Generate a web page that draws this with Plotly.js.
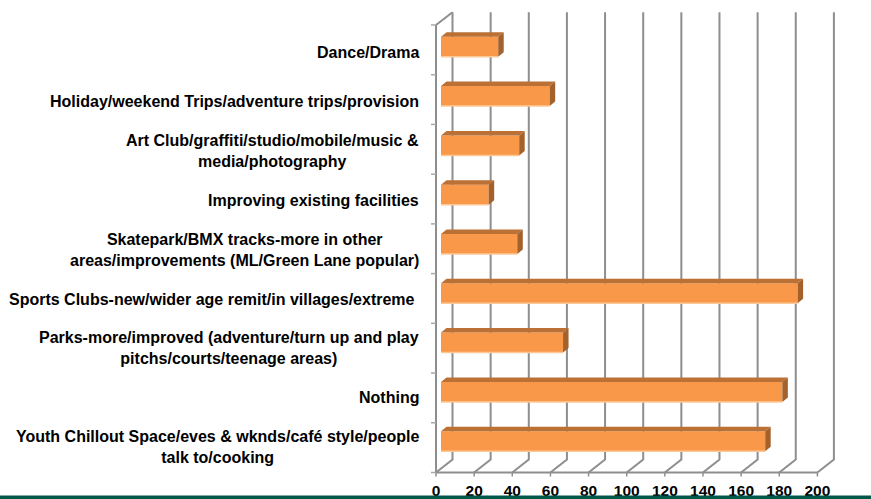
<!DOCTYPE html>
<html>
<head>
<meta charset="utf-8">
<script src="https://cdn.plot.ly/plotly-3.0.1.min.js"></script>
<style>html,body{margin:0;padding:0;background:#fff;}#chart{width:871px;height:499px;}</style>
</head>
<body>
<div id="chart"></div>
<script>
// ---- data (top to bottom as shown) ----
const categories = [
  "Dance/Drama",
  "Holiday/weekend Trips/adventure trips/provision",
  "Art Club/graffiti/studio/mobile/music &<br>media/photography",
  "Improving existing facilities",
  "Skatepark/BMX tracks-more in other<br>areas/improvements (ML/Green Lane popular)",
  "Sports Clubs-new/wider age remit/in villages/extreme\u00A0",
  "Parks-more/improved (adventure/turn up and play<br>pitchs/courts/teenage areas)",
  "Nothing",
  "Youth Chillout Space/eves & wknds/café style/people<br>talk to/cooking"
];
const values = [30, 57, 41, 25, 40, 187, 64, 179, 170];
const xTickVals = [0, 20, 40, 60, 80, 100, 120, 140, 160, 180, 200];
const xTickText = ["0", "20", "40", "60", "80", "100", "120", "140", "160", "180", "200"];

// ---- geometry (pixels) ----
const W = 871, H = 499, ML = 420, MR = 20;
const PXU = 1.907;          // px per value unit
const BAR_X0 = 441;         // px of value 0 on bar front face
const FRONT_X0 = 436, BACK_X0 = 452.5;
const FRONT_TOP = 25, FRONT_BOT = 472.5, BACK_TOP = 12.3, BACK_BOT = 459.5;
const CAT = 49.3, CAT0 = 46.8; // px pitch and first bar center
const BAR_W = 20 / CAT;
const DXU = 5.5 / PXU, DYU = 4.5 / CAT;

const fx = px => (px - BAR_X0) / PXU;
const fy = px => (px - CAT0) / CAT;
const offF = fx(FRONT_X0), offB = fx(BACK_X0);

const idx = categories.map((c, i) => i);

// top faces and side faces
const topX = [], topY = [], sideX = [], sideY = [], lowX = [], lowY = [];
values.forEach((v, i) => {
  const yt = i - BAR_W / 2, yb = i + BAR_W / 2;
  topX.push(0, v, v + DXU, DXU, 0, null);
  topY.push(yt, yt, yt - DYU, yt - DYU, yt, null);
  sideX.push(v, v + DXU, v + DXU, v, v, null);
  sideY.push(yt, yt - DYU, yb - DYU, yb, yt, null);
  lowX.push(0, v, null);
  lowY.push(yb, yb, null);
});

const traces = [
  {type: 'bar', orientation: 'h', x: values, y: idx, width: BAR_W,
   marker: {color: '#F89848', line: {width: 0}}, hoverinfo: 'none'},
  {type: 'scatter', mode: 'lines', x: topX, y: topY, fill: 'toself',
   fillcolor: '#BB7035', line: {width: 0, color: '#BB7035'}, hoverinfo: 'none'},
  {type: 'scatter', mode: 'lines', x: sideX, y: sideY, fill: 'toself',
   fillcolor: '#A3612C', line: {width: 0, color: '#A3612C'}, hoverinfo: 'none'},
  {type: 'scatter', mode: 'lines', x: lowX, y: lowY,
   line: {width: 1.5, color: '#FCC89A'}, hoverinfo: 'none'}
];

const grid = '#8E8E8E';
const shapes = [];
xTickVals.forEach(t => {
  shapes.push({type: 'path', xref: 'x', yref: 'y', layer: 'below',
    path: `M${t + offB},${fy(BACK_TOP)} L${t + offB},${fy(BACK_BOT)} L${t + offF},${fy(FRONT_BOT)}`,
    line: {color: grid, width: 2}});
  shapes.push({type: 'line', xref: 'x', yref: 'y', layer: 'below',
    x0: t + offF, x1: t + offF, y0: fy(FRONT_BOT), y1: fy(FRONT_BOT + 4),
    line: {color: grid, width: 1.5}});
});
const tMax = xTickVals[xTickVals.length - 1];
shapes.push({type: 'line', xref: 'x', yref: 'y', layer: 'below',
  x0: offF, x1: tMax + offF, y0: fy(FRONT_BOT), y1: fy(FRONT_BOT),
  line: {color: grid, width: 2}});
shapes.push({type: 'line', xref: 'x', yref: 'y', layer: 'below',
  x0: offF, x1: offF, y0: fy(FRONT_TOP), y1: fy(FRONT_BOT),
  line: {color: grid, width: 2}});
shapes.push({type: 'line', xref: 'x', yref: 'y', layer: 'below',
  x0: offF, x1: offB, y0: fy(FRONT_TOP), y1: fy(BACK_TOP),
  line: {color: grid, width: 2}});
const n = categories.length;
for (let k = 0; k <= n; k++) {
  const py = FRONT_TOP + k * (FRONT_BOT - FRONT_TOP) / n;
  shapes.push({type: 'line', xref: 'x', yref: 'y', layer: 'below',
    x0: fx(FRONT_X0 - 5), x1: offF, y0: fy(py), y1: fy(py),
    line: {color: '#A8A8A8', width: 1.5}});
}
// bottom green band
const PW = W - ML - MR;
shapes.push({type: 'rect', xref: 'paper', yref: 'paper', layer: 'above',
  x0: -ML / PW, x1: (W - ML) / PW, y0: 0, y1: 3.5 / H,
  fillcolor: '#00584A', line: {width: 0}});

const font = {family: 'Liberation Sans, Arial, sans-serif', size: 16, color: '#000', weight: 'bold'};

const annotations = categories.map((c, i) => ({
  xref: 'paper', yref: 'y', x: (421 - ML) / PW, y: i, yshift: -5.7,
  xanchor: 'right', yanchor: 'middle', align: 'center',
  text: c, showarrow: false, font: font
}));

const layout = {
  width: W, height: H,
  margin: {l: ML, r: MR, t: 0, b: 0, pad: 0},
  paper_bgcolor: '#ffffff', plot_bgcolor: 'rgba(0,0,0,0)',
  showlegend: false,
  xaxis: {range: [fx(ML), fx(W - MR)], anchor: 'free', position: (H - FRONT_BOT) / H,
    tickmode: 'array', tickvals: xTickVals, ticktext: xTickText,
    ticks: '', showgrid: false, zeroline: false, showline: false,
    ticklabelshift: FRONT_X0 - BAR_X0, ticklabelstandoff: 7,
    tickfont: {family: 'Liberation Sans, Arial, sans-serif', size: 15.5, color: '#000', weight: 'bold'},
    fixedrange: true},
  yaxis: {range: [fy(H), fy(0)], showticklabels: false, showgrid: false,
    zeroline: false, showline: false, ticks: '', fixedrange: true},
  shapes: shapes,
  annotations: annotations
};

Plotly.newPlot('chart', traces, layout, {displayModeBar: false, staticPlot: true});
</script>
</body>
</html>
